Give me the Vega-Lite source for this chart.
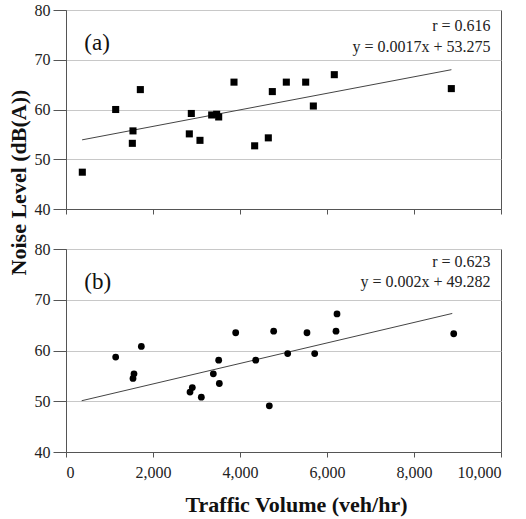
{
  "$schema": "https://vega.github.io/schema/vega-lite/v6.json",
  "padding": {"left": 6, "top": 1, "right": 6, "bottom": 3},
  "background": "white",
  "bounds": "flush",
  "config": {
    "font": "Liberation Serif",
    "view": {"stroke": "#555", "strokeWidth": 1},
    "axis": {
      "labelFont": "Liberation Serif", "labelFontSize": 16, "labelColor": "#222",
      "titleFont": "Liberation Serif", "titleFontSize": 22, "titleFontWeight": "bold", "titleColor": "#111",
      "domainColor": "#555", "tickColor": "#555", "gridColor": "#c8c8c8"
    }
  },
  "spacing": 40,
  "datasets": {
    "a": [
      {"volume": 375, "noise": 47.4}, {"volume": 1142, "noise": 60.0}, {"volume": 1540, "noise": 55.7},
      {"volume": 1525, "noise": 53.2}, {"volume": 1709, "noise": 64.0}, {"volume": 2881, "noise": 59.2},
      {"volume": 2835, "noise": 55.1}, {"volume": 3080, "noise": 53.8}, {"volume": 3349, "noise": 58.9},
      {"volume": 3464, "noise": 59.05}, {"volume": 3510, "noise": 58.5}, {"volume": 3862, "noise": 65.5},
      {"volume": 4337, "noise": 52.7}, {"volume": 4651, "noise": 54.3}, {"volume": 4743, "noise": 63.6},
      {"volume": 5065, "noise": 65.5}, {"volume": 5510, "noise": 65.5}, {"volume": 5686, "noise": 60.7},
      {"volume": 6168, "noise": 67.0}, {"volume": 8858, "noise": 64.2}
    ],
    "b": [
      {"volume": 1142, "noise": 58.7}, {"volume": 1563, "noise": 55.4}, {"volume": 1540, "noise": 54.5},
      {"volume": 1732, "noise": 60.8}, {"volume": 2851, "noise": 51.8}, {"volume": 2904, "noise": 52.7},
      {"volume": 3111, "noise": 50.8}, {"volume": 3387, "noise": 55.4}, {"volume": 3510, "noise": 58.1},
      {"volume": 3525, "noise": 53.5}, {"volume": 3901, "noise": 63.5}, {"volume": 4361, "noise": 58.1},
      {"volume": 4674, "noise": 49.1}, {"volume": 4774, "noise": 63.8}, {"volume": 5096, "noise": 59.4},
      {"volume": 5540, "noise": 63.5}, {"volume": 5717, "noise": 59.4}, {"volume": 6207, "noise": 63.8},
      {"volume": 6230, "noise": 67.2}, {"volume": 8913, "noise": 63.3}
    ],
    "fitA": [{"volume": 370, "noise": 53.9}, {"volume": 8860, "noise": 68.0}],
    "fitB": [{"volume": 360, "noise": 50.1}, {"volume": 8880, "noise": 67.3}],
    "annA": [
      {"label": "r = 0.616", "volume": 9760, "noise": 76.7},
      {"label": "y = 0.0017x + 53.275", "volume": 9760, "noise": 72.6}
    ],
    "tagA": [{"label": "(a)", "volume": 420, "noise": 73.3}],
    "annB": [
      {"label": "r = 0.623", "volume": 9760, "noise": 77.4},
      {"label": "y = 0.002x + 49.282", "volume": 9760, "noise": 73.5}
    ],
    "tagB": [{"label": "(b)", "volume": 420, "noise": 73.5}]
  },
  "vconcat": [
    {
      "width": 435, "height": 199,
      "view": {"stroke": "#555", "strokeWidth": 1},
      "encoding": {
        "x": {"field": "volume", "type": "quantitative", "scale": {"domain": [0, 10000]},
              "axis": {"labels": false, "title": null, "grid": false, "values": [0, 2000, 4000, 6000, 8000, 10000], "tickSize": 5}},
        "y": {"field": "noise", "type": "quantitative", "scale": {"domain": [40, 80]},
              "axis": {"values": [40, 50, 60, 70, 80], "title": "Noise Level (dB(A))", "titleY": 172, "tickSize": 13, "labelPadding": 3, "titlePadding": 4}}
      },
      "layer": [
        {"data": {"name": "fitA"}, "mark": {"type": "line", "color": "#444", "strokeWidth": 1}},
        {"data": {"name": "a"}, "mark": {"type": "square", "filled": true, "color": "black", "size": 50, "opacity": 1}},
        {"data": {"name": "annA"}, "mark": {"type": "text", "align": "right", "baseline": "middle", "fontSize": 16, "color": "#222", "font": "Liberation Serif"},
         "encoding": {"text": {"field": "label"}}},
        {"data": {"name": "tagA"}, "mark": {"type": "text", "align": "left", "baseline": "middle", "fontSize": 23, "color": "#111", "font": "Liberation Serif"},
         "encoding": {"text": {"field": "label"}}}
      ]
    },
    {
      "width": 435, "height": 203,
      "view": {"stroke": "#555", "strokeWidth": 1},
      "encoding": {
        "x": {"field": "volume", "type": "quantitative", "scale": {"domain": [0, 10000]},
              "axis": {"format": ",d", "title": "Traffic Volume (veh/hr)", "titleX": 230, "grid": false, "values": [0, 2000, 4000, 6000, 8000, 10000], "tickSize": 5, "labelPadding": 7, "titlePadding": 14}},
        "y": {"field": "noise", "type": "quantitative", "scale": {"domain": [40, 80]},
              "axis": {"values": [40, 50, 60, 70, 80], "title": null, "tickSize": 13, "labelPadding": 3}}
      },
      "layer": [
        {"data": {"name": "fitB"}, "mark": {"type": "line", "color": "#444", "strokeWidth": 1}},
        {"data": {"name": "b"}, "mark": {"type": "circle", "color": "black", "size": 46, "opacity": 1}},
        {"data": {"name": "annB"}, "mark": {"type": "text", "align": "right", "baseline": "middle", "fontSize": 16, "color": "#222", "font": "Liberation Serif"},
         "encoding": {"text": {"field": "label"}}},
        {"data": {"name": "tagB"}, "mark": {"type": "text", "align": "left", "baseline": "middle", "fontSize": 23, "color": "#111", "font": "Liberation Serif"},
         "encoding": {"text": {"field": "label"}}}
      ]
    }
  ]
}
